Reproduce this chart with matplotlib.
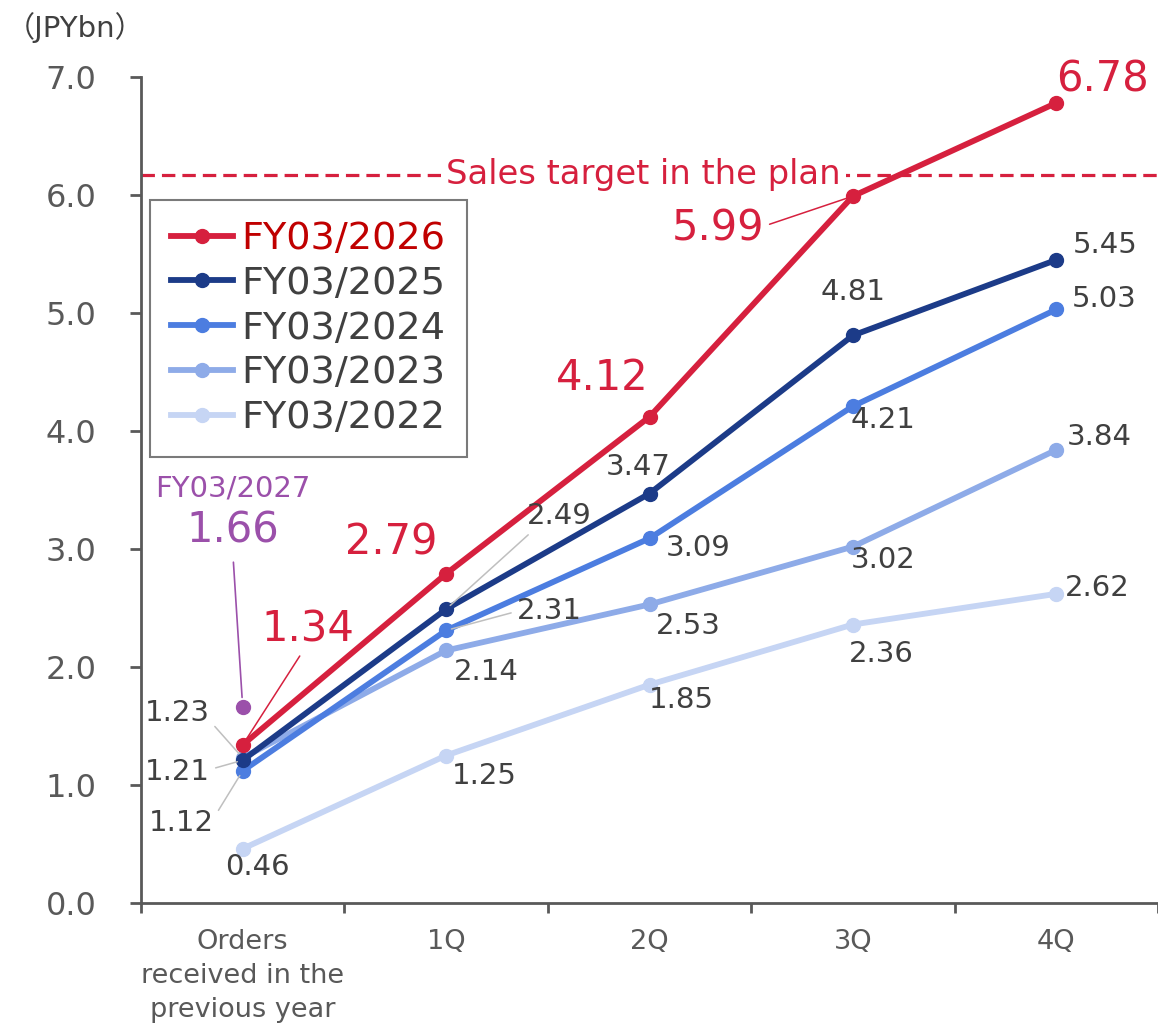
import numpy as np
import matplotlib.pyplot as plt

# quarterly cumulative sales, JPY bn
categories = ['Orders\nreceived in the\nprevious year', '1Q', '2Q', '3Q', '4Q']
fy2026 = [1.34, 2.79, 4.12, 5.99, 6.78]
fy2025 = [1.21, 2.49, 3.47, 4.81, 5.45]
fy2024 = [1.12, 2.31, 3.09, 4.21, 5.03]
fy2023 = [1.23, 2.14, 2.53, 3.02, 3.84]
fy2022 = [0.46, 1.25, 1.85, 2.36, 2.62]
fy2027 = [1.66]
sales_target = 6.17

plt.rcParams['font.family'] = ['DejaVu Sans', 'Noto Sans CJK JP']

fig = plt.figure(figsize=(11.58, 10.27), dpi=100)
ax = fig.add_axes([141/1158, 124/1027, 1017/1158, 826/1027])

x = np.arange(len(categories))

grey = '#404040'
axis_grey = '#595959'
red = '#D6203E'

series = [
    ('FY03/2026', fy2026, red, 6),
    ('FY03/2025', fy2025, '#1C3B88', 5),
    ('FY03/2024', fy2024, '#4C7DE0', 4),
    ('FY03/2023', fy2023, '#8EABE8', 3),
    ('FY03/2022', fy2022, '#C6D5F4', 2),
]

for name, vals, col, z in series:
    ax.plot(x, vals, color=col, lw=4.2, marker='o', markersize=10, label=name, zorder=z)

ax.plot(x[:1], fy2027, 'o', color='#9B50AA', markersize=10, zorder=6)

# sales target line, text sits on a white box to cut the dashes
ax.axhline(sales_target, color=red, lw=2.3, ls=(0, (4.2, 2.2)), zorder=1)
ax.text(1.97, sales_target, 'Sales target in the plan', color=red, fontsize=24.3,
        ha='center', va='center', zorder=2,
        bbox=dict(facecolor='white', edgecolor='none', pad=4))

# label offsets (pixels, y up) for each series
offs = {
    'FY03/2026': [(65, 115), (-55, 31), (-47, 39), (-135, -32), (46, 23)],
    'FY03/2025': [(-65, -12), (113, 93), (-11, 27), (0, 43), (49, 15)],
    'FY03/2024': [(-61, -52), (103, 19), (49, -10), (30, -14), (48, 10)],
    'FY03/2023': [(-65, 45), (40, -22), (39, -22), (30, -13), (43, 13)],
    'FY03/2022': [(15, -18), (38, -20), (32, -15), (28, -29), (41, 6)],
}
# leader lines: (series, index) -> relpos on text, colour
leaders = {
    ('FY03/2026', 0): ((0.45, 0.0), red),
    ('FY03/2026', 3): ((1.0, 0.55), red),
    ('FY03/2025', 0): ((1.0, 0.6), '#BFBFBF'),
    ('FY03/2025', 1): ((0.15, 0.1), '#BFBFBF'),
    ('FY03/2024', 0): ((1.0, 0.7), '#BFBFBF'),
    ('FY03/2024', 1): ((0.0, 0.5), '#BFBFBF'),
    ('FY03/2023', 0): ((1.0, 0.2), '#BFBFBF'),
}

for name, vals, col, z in series:
    big = name == 'FY03/2026'
    for i, v in enumerate(vals):
        kw = {}
        if (name, i) in leaders:
            rp, lc = leaders[(name, i)]
            kw['arrowprops'] = dict(arrowstyle='-', color=lc, lw=1.1, relpos=rp,
                                    shrinkA=2, shrinkB=4)
        ax.annotate(f'{v:.2f}', xy=(x[i], v), xytext=offs[name][i],
                    textcoords='offset pixels', ha='center', va='center',
                    fontsize=30 if big else 21, color=red if big else grey,
                    zorder=8, **kw)

# next-year order backlog
ax.annotate(f'{fy2027[0]:.2f}', xy=(x[0], fy2027[0]), xytext=(-10, 177),
            textcoords='offset pixels', ha='center', va='center', fontsize=30,
            color='#9B50AA',
            arrowprops=dict(arrowstyle='-', color='#9B50AA', lw=1.2,
                            relpos=(0.5, 0.0), shrinkA=6, shrinkB=7))
ax.annotate('FY03/2027', xy=(x[0], fy2027[0]), xytext=(-10, 219),
            textcoords='offset pixels', ha='center', va='center', fontsize=21,
            color='#9B50AA')

ax.set_xlim(-0.5, 4.5)
ax.set_ylim(0, 7)
ax.set_yticks(np.arange(0, 7.5, 1.0))
ax.set_yticklabels([f'{t:.1f}' for t in np.arange(0, 7.5, 1.0)])
ax.set_xticks(x)
ax.set_xticklabels(categories, linespacing=1.4)
ax.set_xticks(np.arange(-0.5, 5, 1.0), minor=True)

for s in ['top', 'right']:
    ax.spines[s].set_visible(False)
for s in ['left', 'bottom']:
    ax.spines[s].set_color(axis_grey)
    ax.spines[s].set_linewidth(2)

ax.tick_params(axis='y', length=8, width=2, color=axis_grey, pad=24,
               labelsize=23, labelcolor=axis_grey)
ax.tick_params(axis='x', which='major', length=0, pad=19, labelsize=19.5,
               labelcolor=axis_grey)
ax.tick_params(axis='x', which='minor', length=7, width=2, color=axis_grey)

leg = ax.legend(loc='upper left', bbox_to_anchor=(150/1158, 1 - 200/1027),
                bbox_transform=fig.transFigure, fontsize=27.5, frameon=True,
                fancybox=False, edgecolor=axis_grey, handlelength=1.63,
                handletextpad=0.22, labelspacing=0.23, borderpad=0.55,
                borderaxespad=0)
leg.get_frame().set_linewidth(1.5)
for i, t in enumerate(leg.get_texts()):
    t.set_color('#C00000' if i == 0 else grey)

fig.text(6/1158, 1 - 28/1027, '（JPYbn）', fontsize=21, color=grey,
         ha='left', va='center')

fig.savefig('out.png', dpi=100)
